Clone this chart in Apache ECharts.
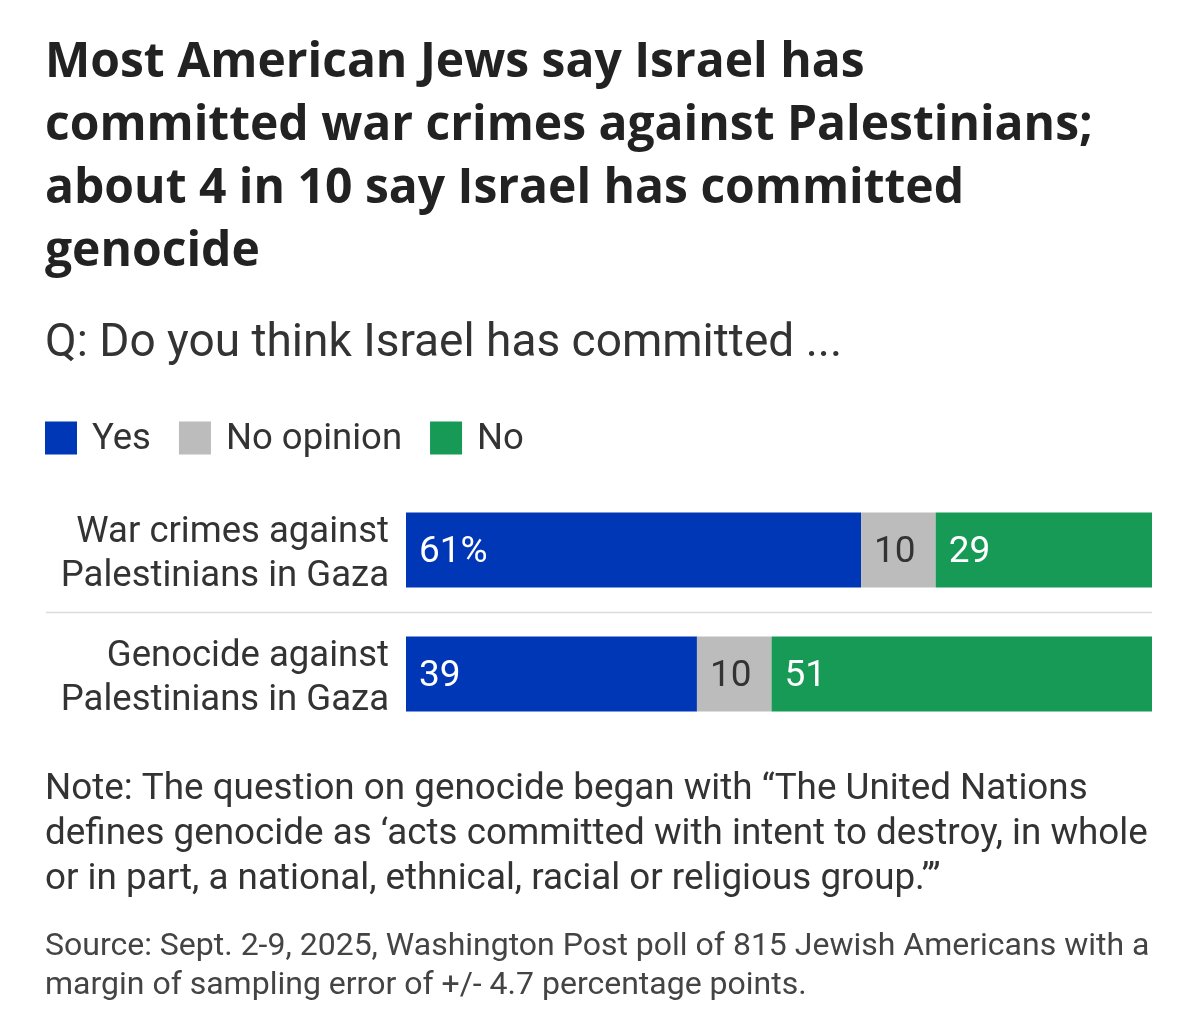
<!DOCTYPE html>
<html>
<head>
<meta charset="utf-8">
<script src="https://cdn.jsdelivr.net/npm/echarts@6/dist/echarts.min.js"></script>
<style>
  html, body {margin: 0; padding: 0; background: #fff;}
  #chart {width: 1200px; height: 1030px;}
</style>
</head>
<body>
<div id="chart"></div>
<script>
// survey answers, percent
const categories = ['War crimes against\nPalestinians in Gaza', 'Genocide against\nPalestinians in Gaza']
const yesValues = [61, 39]
const noOpinionValues = [10, 10]
const noValues = [29, 51]

const FONT = 'Roboto'
const colors = {yes: '#0037b6', noOpinion: '#bcbcbc', no: '#169a56'}

const chart = echarts.init(document.getElementById('chart'))

function barLabel(color, firstSuffix) {
  return {
    show: true,
    position: 'insideLeft',
    distance: 13,
    offset: [0, 3],
    color: color,
    fontFamily: FONT,
    fontSize: 37,
    formatter: p => p.value + (p.dataIndex === 0 && firstSuffix ? firstSuffix : '')
  }
}

const option = {
  backgroundColor: '#fff',
  animation: false,
  title: [
    {
      text: 'Most American Jews say Israel has\ncommitted war crimes against Palestinians;\nabout 4 in 10 say Israel has committed\ngenocide',
      left: 45, top: 32, padding: 0,
      textStyle: {fontFamily: '"Open Sans"', fontWeight: 'bold', fontSize: 48, lineHeight: 63, color: '#222'}
    },
    {
      text: 'Q: Do you think Israel has committed ...',
      left: 45, top: 321, padding: 0,
      textStyle: {fontFamily: FONT, fontWeight: 'normal', fontSize: 46, lineHeight: 46, color: '#333'}
    },
    {
      text: 'Note: The question on genocide began with \u201cThe United Nations\ndefines genocide as \u2018acts committed with intent to destroy, in whole\nor in part, a national, ethnical, racial or religious group.\u2019\u201d',
      left: 45, top: 767, padding: 0,
      textStyle: {fontFamily: FONT, fontWeight: 'normal', fontSize: 36.8, lineHeight: 45, color: '#333'}
    },
    {
      text: 'Source: Sept. 2-9, 2025, Washington Post poll of 815 Jewish Americans with a\nmargin of sampling error of +/- 4.7 percentage points.',
      left: 45, top: 927, padding: 0,
      textStyle: {fontFamily: FONT, fontWeight: 'normal', fontSize: 32, lineHeight: 39, color: '#444'}
    }
  ],
  legend: {
    left: 45, top: 418, padding: 0,
    itemWidth: 32, itemHeight: 33, itemGap: 28,
    icon: 'rect',
    selectedMode: false,
    formatter: name => '{t|' + name + '}',
    textStyle: {
      rich: {
        t: {fontFamily: FONT, fontSize: 36.5, lineHeight: 36, color: '#333', padding: [3, 0, 0, 10]}
      }
    },
    data: ['Yes', 'No opinion', 'No']
  },
  grid: {left: 406, right: 48, top: 488, height: 248},
  xAxis: {
    type: 'value', min: 0, max: 100,
    show: false
  },
  yAxis: {
    type: 'category',
    inverse: true,
    data: categories,
    axisLine: {show: false},
    axisTick: {show: false},
    axisLabel: {
      margin: 17,
      align: 'right',
      // small empty first line nudges the two text lines down a touch
      formatter: v => '{s| }\n' + v.split('\n').map(s => '{c|' + s + '}').join('\n'),
      rich: {
        s: {fontSize: 1, lineHeight: 10},
        c: {fontFamily: FONT, fontSize: 36.5, lineHeight: 44, color: '#333', align: 'right'}
      }
    }
  },
  series: [
    {
      name: 'Yes', type: 'bar', stack: 'all', barWidth: 75,
      itemStyle: {color: colors.yes},
      label: barLabel('#fff', '%'),
      data: yesValues
    },
    {
      name: 'No opinion', type: 'bar', stack: 'all', barWidth: 75,
      itemStyle: {color: colors.noOpinion},
      label: barLabel('#333'),
      data: noOpinionValues
    },
    {
      name: 'No', type: 'bar', stack: 'all', barWidth: 75,
      itemStyle: {color: colors.no},
      label: barLabel('#fff'),
      data: noValues
    }
  ]
}

chart.setOption(option)

// thin rule between the two rows, from the label column to the end of the bars
const yTop = chart.convertToPixel({yAxisIndex: 0}, 0)
const yBottom = chart.convertToPixel({yAxisIndex: 0}, 1)
const xEnd = chart.convertToPixel({xAxisIndex: 0}, 100)
const yRule = Math.round((yTop + yBottom) / 2) + 0.5
chart.setOption({
  graphic: [{
    type: 'line',
    shape: {x1: 46, y1: yRule, x2: xEnd, y2: yRule},
    style: {stroke: '#dcdcdc', lineWidth: 1.5}
  }]
})
</script>
</body>
</html>
